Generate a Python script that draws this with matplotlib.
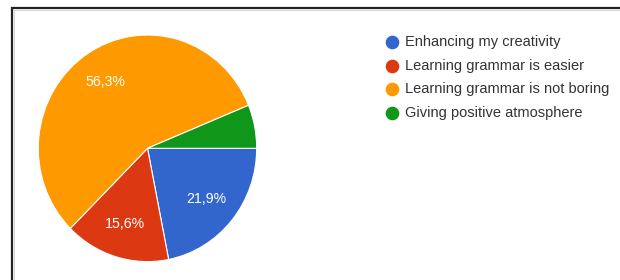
import matplotlib
matplotlib.use("Agg")
import matplotlib.pyplot as plt
from matplotlib.lines import Line2D

categories = ["Enhancing my creativity", "Learning grammar is easier",
              "Learning grammar is not boring", "Giving positive atmosphere"]
values = [21.9, 15.6, 56.3, 6.2]
colors = ["#3366CC", "#DC3912", "#FF9900", "#109618"]

plt.rcParams['font.family'] = ['Liberation Sans', 'DejaVu Sans']

W, H = 620, 280
fig = plt.figure(figsize=(W / 100, H / 100), dpi=100)
fig.patch.set_facecolor("white")

# pie axes (slightly elliptical like the reference screenshot)
cx, cy, rx, ry = 147.5, 148.3, 109.2, 113.3
ax = fig.add_axes([(cx - rx) / W, (H - cy - ry) / H, 2 * rx / W, 2 * ry / H])


def fmt(p):
    return ("%.1f%%" % p).replace(".", ",") if p >= 10 else ""


wedges, texts, autotexts = ax.pie(
    values, colors=colors, startangle=0, counterclock=False,
    autopct=fmt, pctdistance=0.70,
    wedgeprops=dict(edgecolor="white", linewidth=0.8),
    textprops=dict(color="white", fontsize=10.2))
ax.set_aspect("auto")
ax.set_xlim(-1, 1)
ax.set_ylim(-1, 1)
ax.axis("off")

# legend
ys = [42, 65.5, 89, 112.5]
for cat, col, y in zip(categories, colors, ys):
    fig.add_artist(Line2D([392 / W], [1 - y / H], marker="o", markersize=8.8,
                          color=col, linestyle="none",
                          transform=fig.transFigure))
    fig.text(405 / W, 1 - y / H, cat, fontsize=10.5, color="#333333",
             va="center", ha="left")

# border (top and left edges visible)
bx, by = 12, 8
fig.add_artist(Line2D([bx / W, bx / W, 1.02], [-0.02, 1 - by / H, 1 - by / H],
                      color="#222222", linewidth=1.6, solid_capstyle="butt",
                      solid_joinstyle="miter", transform=fig.transFigure))
fig.add_artist(Line2D([(bx + 2) / W, (bx + 2) / W, 1.02],
                      [-0.02, 1 - (by + 2) / H, 1 - (by + 2) / H],
                      color="#d8d8d8", linewidth=0.8, solid_capstyle="butt",
                      transform=fig.transFigure))

fig.savefig("out.png", dpi=100, facecolor="white")
